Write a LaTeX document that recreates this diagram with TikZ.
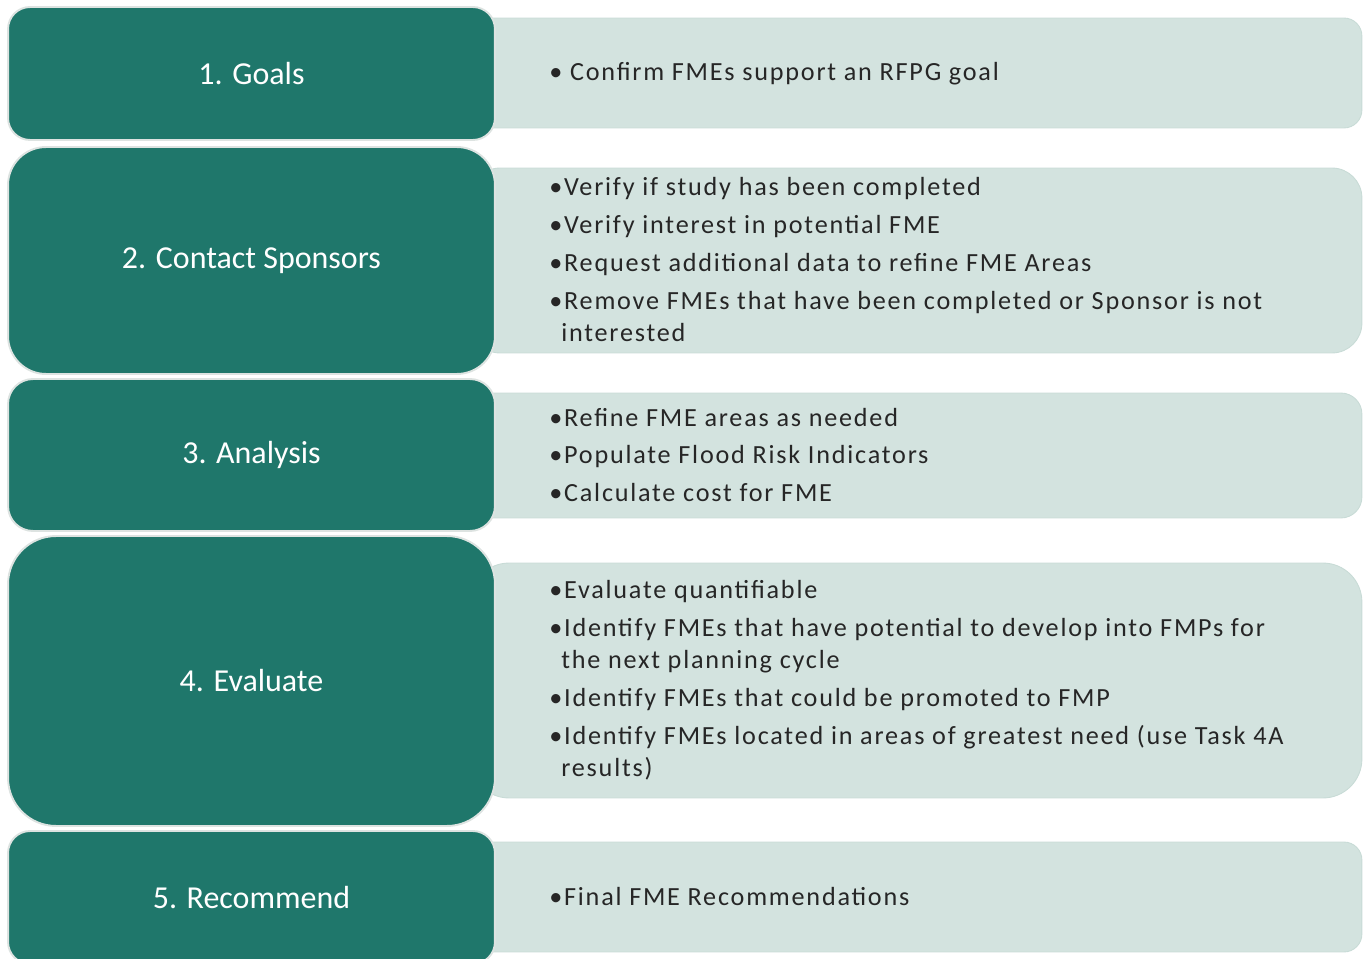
\documentclass[tikz,border=0pt]{standalone}
\usepackage{fontspec}
\setmainfont{Carlito}
\usetikzlibrary{positioning}
\definecolor{fmeteal}{HTML}{1F776B}
\definecolor{fmeedge}{HTML}{DDE3E1}
\definecolor{fmemint}{HTML}{D3E3DF}
\definecolor{fmemintedge}{HTML}{C8DBD6}
\definecolor{fmetext}{HTML}{262626}
\newcommand{\stagefont}{\fontsize{18.2pt}{22pt}\selectfont}
\newcommand{\notefont}{\fontsize{14.9pt}{18.2pt}\selectfont\addfontfeature{LetterSpace=6.8}}
\newcommand{\wrapin}{\hspace*{0.24cm}}

\begin{document}
\begin{tikzpicture}[
  x=0.02cm, y=-0.02cm,
  stage/.style={draw=fmeedge, line width=1.1pt, fill=fmeteal, text=white, font=\stagefont, minimum width=9.74cm, inner sep=0pt},
  note/.style={draw=fmemintedge, line width=0.5pt, fill=fmemint, minimum width=17.84cm, inner sep=0pt},
  notetext/.style={anchor=west, align=left, inner sep=0pt, text=fmetext, font=\notefont},
]
  \useasboundingbox (0,0) rectangle (1363,959);

  \node[note, minimum height=2.2cm, rounded corners=0.36cm] (goalsnote) at (916,73) {};
  \node[note, minimum height=3.7cm, rounded corners=0.6cm] (contactnote) at (916,260.5) {};
  \node[note, minimum height=2.5cm, rounded corners=0.42cm] (analysisnote) at (916,455.5) {};
  \node[note, minimum height=4.7cm, rounded corners=0.78cm] (evalnote) at (916,680.5) {};
  \node[note, minimum height=2.2cm, rounded corners=0.36cm] (recnote) at (916,897) {};

  \node[stage, minimum height=2.66cm, rounded corners=0.44cm] (goals) at (251.5,73.5) {1. Goals};
  \node[stage, minimum height=4.54cm, rounded corners=0.76cm] (contact) at (251.5,260.5) {2. Contact Sponsors};
  \node[stage, minimum height=3.04cm, rounded corners=0.5cm] (analysis) at (251.5,455) {3. Analysis};
  \node[stage, minimum height=5.8cm, rounded corners=0.96cm] (evaluate) at (251.5,681) {4. Evaluate};
  \node[stage, minimum height=2.66cm, rounded corners=0.44cm] (recommend) at (251.5,897.5) {5. Recommend};

  \node[notetext] (goalstext) at (549,74) {\textbullet{} Confirm FMEs support an RFPG goal};
  \node[notetext] (contacttext) at (549,259.5) {\textbullet Verify if study has been completed\\[3.4pt]
    \textbullet Verify interest in potential FME\\[3.4pt]
    \textbullet Request additional data to refine FME Areas\\[3.4pt]
    \textbullet Remove FMEs that have been completed or Sponsor is not\\
    \wrapin interested};
  \node[notetext] (analysistext) at (549,455) {\textbullet Refine FME areas as needed\\[3.4pt]
    \textbullet Populate Flood Risk Indicators\\[3.4pt]
    \textbullet Calculate cost for FME};
  \node[notetext] (evaltext) at (549,680.5) {\textbullet Evaluate quantifiable\\[3.4pt]
    \textbullet Identify FMEs that have potential to develop into FMPs for\\
    \wrapin the next planning cycle\\[3.4pt]
    \textbullet Identify FMEs that could be promoted to FMP\\[3.4pt]
    \textbullet Identify FMEs located in areas of greatest need (use Task 4A\\
    \wrapin results)};
  \node[notetext] (rectext) at (549,897) {\textbullet Final FME Recommendations};
\end{tikzpicture}
\end{document}
